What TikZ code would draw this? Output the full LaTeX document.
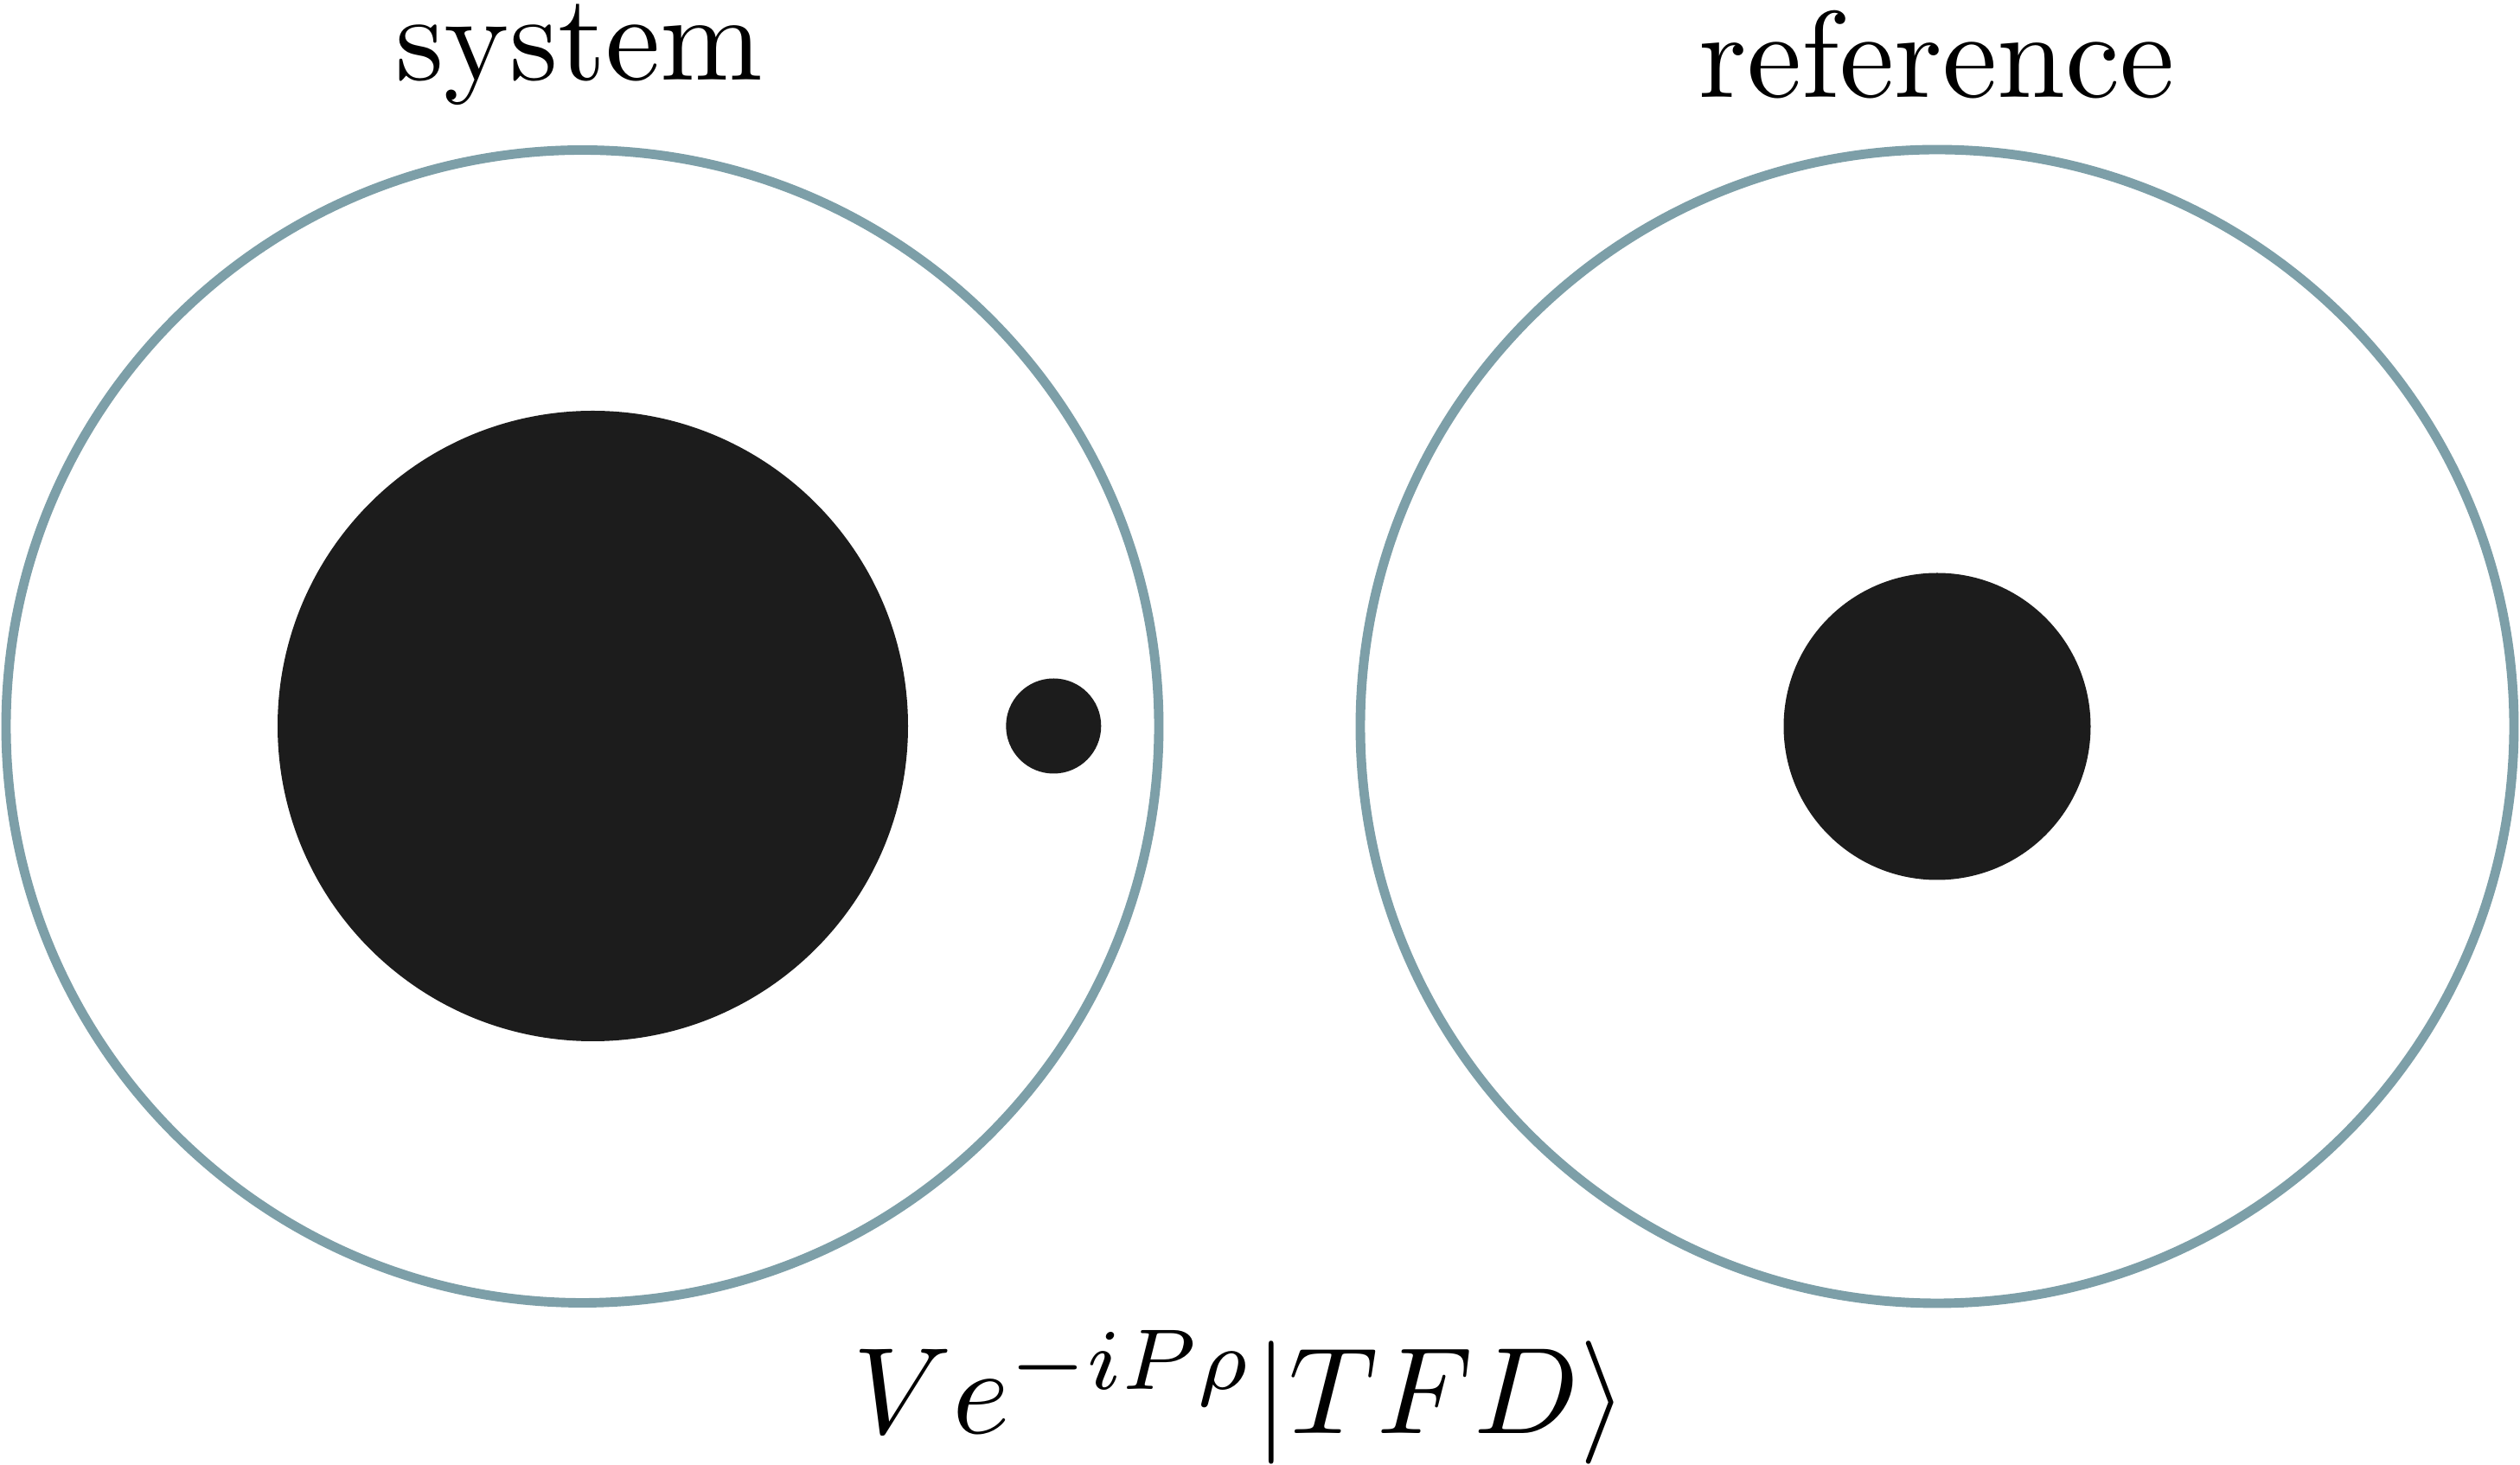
\documentclass[tikz,border=0pt]{standalone}
\definecolor{ringcol}{RGB}{125,159,168}
\definecolor{holecol}{RGB}{28,28,28}
\begin{document}
\begin{tikzpicture}
            [ring/.style ={draw=ringcol,circle,line width=3.1pt,inner sep=0pt},
             hole/.style ={fill=holecol,circle,inner sep=0pt},
             lbl/.style ={scale=4.05,inner sep=0pt}]
            \useasboundingbox (0,0) rectangle (29.14,16.94);
            \node[ring,minimum size=13.33cm] (sys) at (6.735,8.54){};
            \node[ring,minimum size=13.34cm] (ref) at (22.40,8.54){};
            \node[hole,minimum size=7.29cm] (bh) at (6.855,8.545){};
            \node[hole,minimum size=1.10cm] (rad) at (12.183,8.545){};
            \node[hole,minimum size=3.55cm] (bhr) at (ref.center){};
            \node[lbl] (sysl) at (6.70,16.31){system};
            \node[lbl] (refl) at (22.40,16.31){reference};
            \node[lbl,anchor=base] (state) at (14.34,0.36){$Ve^{-iP\rho}|TFD\rangle$};
        \end{tikzpicture}
\end{document}
